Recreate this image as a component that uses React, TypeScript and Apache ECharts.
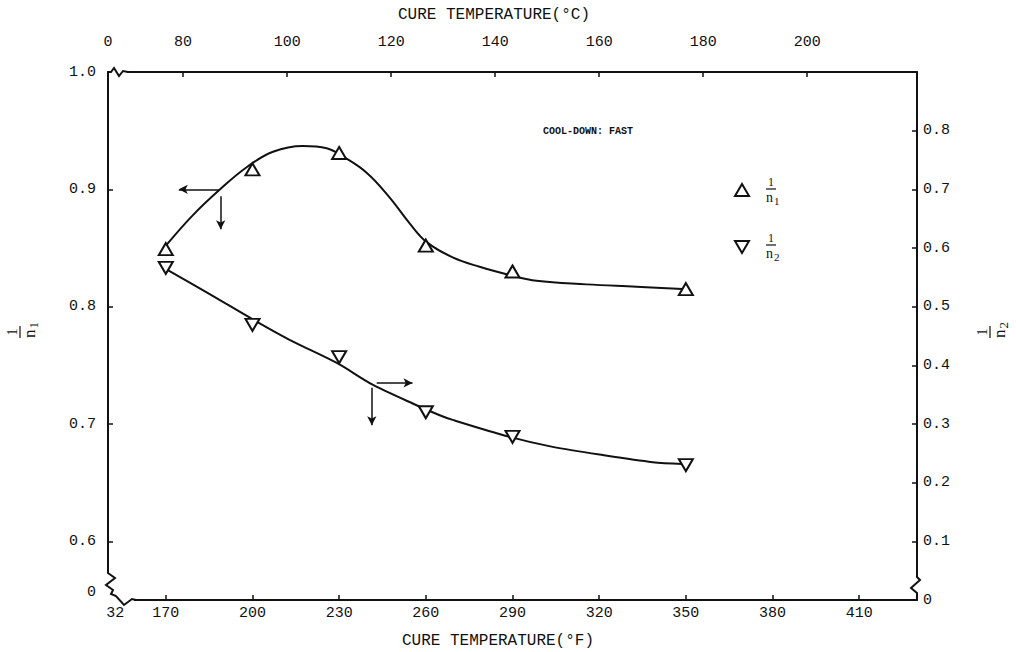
import React, { useEffect, useRef } from "react";
import * as echarts from "echarts";

// ---------- data ----------
const tempF = [170, 200, 230, 260, 290, 350];
const invN1 = [0.849, 0.917, 0.931, 0.852, 0.83, 0.815];
const invN2 = [0.566, 0.469, 0.414, 0.32, 0.278, 0.23];

// points
const fitN1TempF = [170.4, 179.4, 188.8, 198.1, 207.1, 217.4, 225.7, 231.3, 239.6, 247.5, 254.4, 260.3, 269.3, 278.6, 289.0, 298.3, 315.6, 332.9, 348.8];
const fitN1Value = [0.853, 0.878, 0.9, 0.919, 0.932, 0.937, 0.935, 0.928, 0.914, 0.893, 0.871, 0.855, 0.842, 0.834, 0.827, 0.822, 0.819, 0.817, 0.815];
const fitN2TempF = [170.4, 184.3, 201.6, 213.0, 229.2, 241.6, 256.8, 264.8, 269.3, 289.0, 303.9, 321.2, 338.5, 348.8];
const fitN2Value = [0.563, 0.524, 0.474, 0.443, 0.404, 0.367, 0.332, 0.315, 0.307, 0.278, 0.261, 0.247, 0.235, 0.232];

// tick labels
const tempFTicks = [170, 200, 230, 260, 290, 320, 350, 380, 410];
const tempCTicks = [80, 100, 120, 140, 160, 180, 200];
const invN1Ticks = [0.6, 0.7, 0.8, 0.9, 1.0];
const invN2Ticks = [0.1, 0.2, 0.3, 0.4, 0.5, 0.6, 0.7, 0.8];
const tempFBreakLabel = "32";
const tempCBreakLabel = "0";
const invN1BreakLabel = "0";
const invN2ZeroLabel = "0";

// axis ranges (broken axes)
const F_MIN = 150, F_MAX = 430;
const N1_MIN = 0.55, N1_MAX = 1.0;
const N2_MIN = 0, N2_MAX = 0.9;
const F_BREAK_POS = 152.5;
const N1_BREAK_POS = 0.556;
const toC = (f: number) => (f - 32) / 1.8;

// direction arrows (data coordinates)
const n1ArrowLeft = [[188.5, 0.9], [174.5, 0.9]];
const n1ArrowDown = [[189.0, 0.894], [189.0, 0.866]];
const n2ArrowRight = [[243.0, 0.37], [255.4, 0.37]];
const n2ArrowDown = [[241.3, 0.362], [241.3, 0.298]];

// ---------- layout ----------
const W = 1016, H = 652;
const GL = 108, GT = 72, GR = 917, GB = 600;
const MONO = "Liberation Mono";
const SERIF = "Liberation Serif";
const INK = "#111";

function fraction(x: number, y: number, sub: string, rotation = 0, k = 1) {
  return {
    type: "group",
    x, y, rotation, z: 100,
    children: [
      { type: "line", shape: { x1: 0, y1: 0, x2: 10 * k, y2: 0 }, style: { stroke: INK, lineWidth: 1.2 } },
      { type: "text", x: 5 * k, y: -1, style: { text: "1", font: `${Math.round(12 * k)}px ${SERIF}`, fill: INK, textAlign: "center", textVerticalAlign: "bottom" } },
      { type: "text", x: 0, y: 1, style: { text: "n", font: `${Math.round(14 * k)}px ${SERIF}`, fill: INK, textAlign: "left", textVerticalAlign: "top" } },
      { type: "text", x: 8 * k, y: 6 * k, style: { text: sub, font: `${Math.round(11 * k)}px ${SERIF}`, fill: INK, textAlign: "left", textVerticalAlign: "top" } },
    ],
  };
}

const lineStyle = { stroke: INK, lineWidth: 2, fill: null };

export default function App() {
  const ref = useRef<HTMLDivElement>(null);
  useEffect(() => {
    if (!ref.current) return;
    const chart = echarts.init(ref.current, undefined, { renderer: "svg" });
    const arrowML = (pairs: number[][][]) => ({
      silent: true,
      symbol: ["none", "arrow"],
      symbolSize: [7, 9],
      label: { show: false },
      emphasis: { disabled: true },
      lineStyle: { color: INK, width: 1.5, type: "solid" },
      data: pairs.map((p) => [{ coord: p[0] }, { coord: p[1] }]),
    });
    const axisLabelBase = { fontFamily: MONO, fontSize: 15, color: INK };
    chart.setOption({
      animation: false,
      backgroundColor: "#fff",
      grid: { left: GL, top: GT, width: GR - GL, height: GB - GT, containLabel: false },
      xAxis: [
        {
          type: "value", position: "bottom", min: F_MIN, max: F_MAX,
          axisLine: { show: true, lineStyle: { color: INK, width: 2 } },
          axisTick: { show: true, inside: true, length: 5, customValues: tempFTicks, lineStyle: { color: INK, width: 1.5 } },
          axisLabel: {
            ...axisLabelBase, margin: 6,
            customValues: [F_BREAK_POS, ...tempFTicks],
            formatter: (v: number) => (Math.abs(v - F_BREAK_POS) < 0.01 ? tempFBreakLabel : String(v)),
          },
          splitLine: { show: false },
        },
        {
          type: "value", position: "top", min: toC(F_MIN), max: toC(F_MAX),
          axisLine: { show: true, lineStyle: { color: INK, width: 2 } },
          axisTick: { show: true, inside: true, length: 5, customValues: tempCTicks, lineStyle: { color: INK, width: 1.5 } },
          axisLabel: {
            ...axisLabelBase, margin: 22,
            customValues: [toC(F_MIN), ...tempCTicks],
            formatter: (v: number) => (v < 70 ? tempCBreakLabel : String(v)),
          },
          splitLine: { show: false },
        },
      ],
      yAxis: [
        {
          type: "value", position: "left", min: N1_MIN, max: N1_MAX,
          axisLine: { show: true, lineStyle: { color: INK, width: 2 } },
          axisTick: { show: true, inside: true, length: 5, customValues: invN1Ticks.slice(0, -1), lineStyle: { color: INK, width: 1.5 } },
          axisLabel: {
            ...axisLabelBase, margin: 12,
            customValues: [N1_BREAK_POS, ...invN1Ticks],
            formatter: (v: number) => (v < 0.58 ? invN1BreakLabel : v.toFixed(1)),
          },
          splitLine: { show: false },
        },
        {
          type: "value", position: "right", min: N2_MIN, max: N2_MAX,
          axisLine: { show: true, lineStyle: { color: INK, width: 2 } },
          axisTick: { show: true, inside: true, length: 5, customValues: invN2Ticks, lineStyle: { color: INK, width: 1.5 } },
          axisLabel: {
            ...axisLabelBase, margin: 6,
            customValues: [0, ...invN2Ticks],
            formatter: (v: number) => (v === 0 ? invN2ZeroLabel : v.toFixed(1)),
          },
          splitLine: { show: false },
        },
      ],
      series: [
        {
          name: "1/n1 curve", type: "line", xAxisIndex: 0, yAxisIndex: 0,
          data: fitN1TempF.map((f, i) => [f, fitN1Value[i]]),
          smooth: 0.4, showSymbol: false, symbol: "none",
          lineStyle: { color: INK, width: 2 }, z: 2, silent: true,
          markLine: arrowML([n1ArrowLeft, n1ArrowDown]),
        },
        {
          name: "1/n2 curve", type: "line", xAxisIndex: 0, yAxisIndex: 1,
          data: fitN2TempF.map((f, i) => [f, fitN2Value[i]]),
          smooth: 0.3, showSymbol: false, symbol: "none",
          lineStyle: { color: INK, width: 2 }, z: 2, silent: true,
          markLine: arrowML([n2ArrowRight, n2ArrowDown]),
        },
        {
          name: "1/n1", type: "scatter", xAxisIndex: 0, yAxisIndex: 0,
          data: tempF.map((f, i) => [f, invN1[i]]),
          symbol: "triangle", symbolSize: [14, 12],
          itemStyle: { color: "#fff", borderColor: INK, borderWidth: 2, opacity: 1 },
          z: 5,
        },
        {
          name: "1/n2", type: "scatter", xAxisIndex: 0, yAxisIndex: 1,
          data: tempF.map((f, i) => [f, invN2[i]]),
          symbol: "triangle", symbolRotate: 180, symbolSize: [14, 12],
          itemStyle: { color: "#fff", borderColor: INK, borderWidth: 2, opacity: 1 },
          z: 5,
        },
      ],
      graphic: [
        { type: "text", x: 494, y: 15, z: 100, style: { text: "CURE TEMPERATURE(°C)", font: `16px ${MONO}`, fill: INK, textAlign: "center", textVerticalAlign: "middle" } },
        { type: "text", x: 498, y: 641, z: 100, style: { text: "CURE TEMPERATURE(°F)", font: `16px ${MONO}`, fill: INK, textAlign: "center", textVerticalAlign: "middle" } },
        { type: "text", x: 588, y: 131, z: 100, style: { text: "COOL-DOWN: FAST", font: `bold 10px ${MONO}`, fill: INK, textAlign: "center", textVerticalAlign: "middle" } },
        // legend
        { type: "polygon", z: 100, shape: { points: [[742, 184], [749, 196], [735, 196]] }, style: { stroke: INK, lineWidth: 2, fill: "#fff" } },
        fraction(766, 189, "1"),
        { type: "polygon", z: 100, shape: { points: [[735, 241], [749, 241], [742, 253]] }, style: { stroke: INK, lineWidth: 2, fill: "#fff" } },
        fraction(766, 245, "2"),
        // axis titles
        fraction(20, 338, "1", Math.PI / 2, 1.2),
        fraction(990, 338, "2", Math.PI / 2, 1.2),
        // axis breaks
        { type: "rect", z: 99, shape: { x: GL + 1, y: GT - 4, width: 18, height: 8 }, style: { fill: "#fff" } },
        { type: "polyline", z: 100, shape: { points: [[GL, GT], [GL + 3, GT], [GL + 6, GT - 4], [GL + 11, GT + 4], [GL + 15, GT - 1], [GL + 20, GT]] }, style: lineStyle },
        { type: "rect", z: 99, shape: { x: GL - 4, y: GB - 29, width: 30, height: 32 }, style: { fill: "#fff" } },
        { type: "polyline", z: 100, shape: { points: [[GL, GB - 30], [GL, GB - 27], [GL + 7, GB - 22], [GL - 2, GB - 15], [GL + 5, GB - 10], [GL + 3, GB - 6], [GL + 8, GB - 4], [GL + 16, GB + 5], [GL + 24, GB - 1], [GL + 28, GB]] }, style: lineStyle },
        { type: "rect", z: 99, shape: { x: GR - 8, y: GB - 25, width: 14, height: 23 }, style: { fill: "#fff" } },
        { type: "polyline", z: 100, shape: { points: [[GR, GB - 30], [GR, GB - 23], [GR + 3, GB - 20], [GR - 6, GB - 12], [GR, GB - 7], [GR, GB]] }, style: lineStyle },
      ],
    });
    return () => chart.dispose();
  }, []);
  return <div ref={ref} style={{ position: "fixed", left: 0, top: 0, width: W, height: H, background: "#fff" }} />;
}
